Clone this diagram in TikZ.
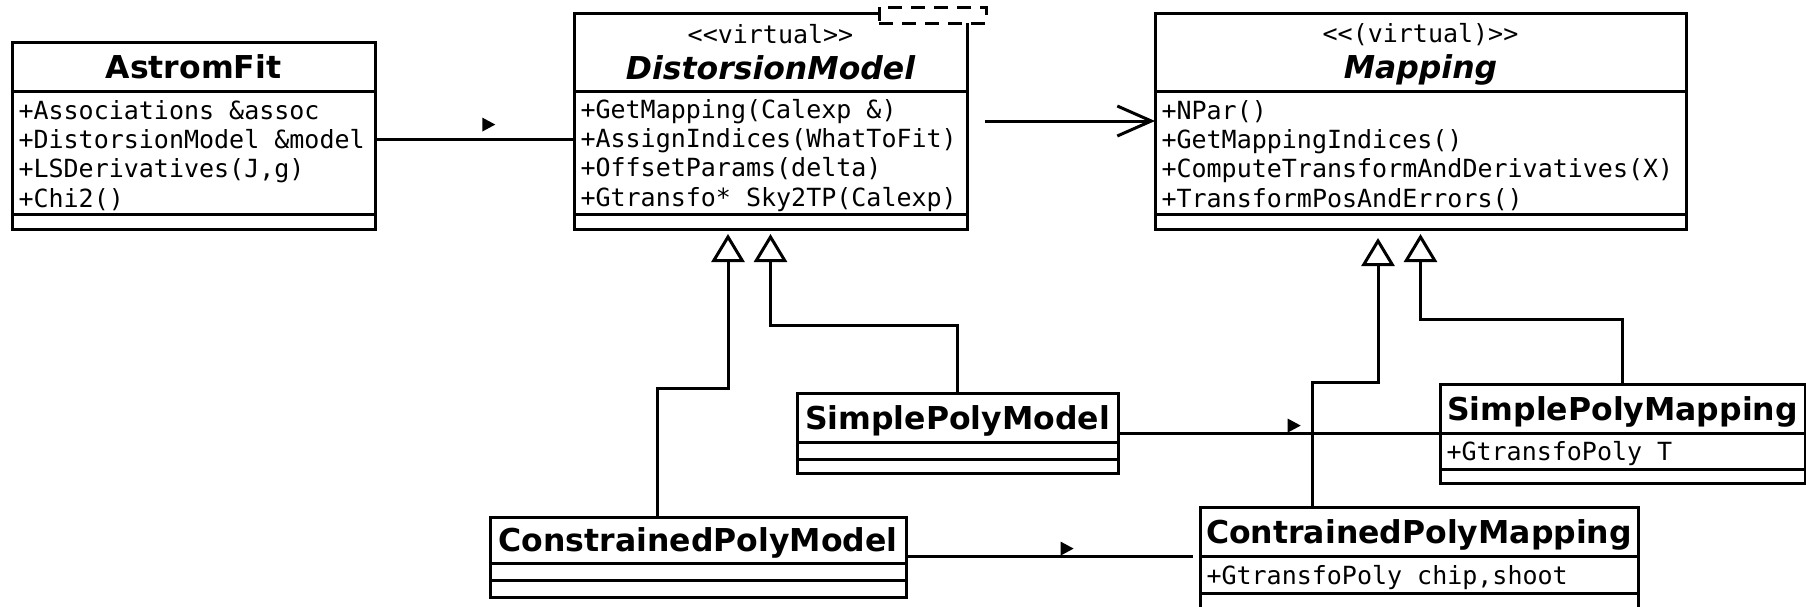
\documentclass[tikz,border=0pt]{standalone}
\usepackage{fontspec}
\newfontfamily\umlsans{DejaVu Sans}
\newfontfamily\umlmono{DejaVu Sans Mono}[Ligatures=TeXOff]
\usetikzlibrary{positioning, arrows.meta, shapes.geometric}
\newcommand\stereotype[1]{{\umlmono\mdseries\upshape\fontsize{25}{29}\selectfont <<#1>>}}
\tikzset{
  umlbox/.style={draw, line width=3pt, fill=white, inner sep=0pt, outer sep=0pt},
  classname/.style={umlbox, font=\umlsans\bfseries\fontsize{31.5}{36}\selectfont, align=center, text depth=0pt},
  classattr/.style={umlbox, inner xsep=6.5pt, align=left, font=\umlmono\fontsize{25}{29.1}\selectfont,
    execute at begin node={\spaceskip=15.05pt\relax\rule{0pt}{25pt}}},
  classops/.style={umlbox},
  tmplbox/.style={umlbox, dash pattern=on 14pt off 9pt},
  assoc/.style={line width=3pt},
  navmark/.style={isosceles triangle, isosceles triangle apex angle=60,
    isosceles triangle stretches, fill=black, inner sep=0pt,
    minimum width=14pt, minimum height=13pt},
  inherit/.style={line width=3pt, -{Triangle[open, length=28pt, width=33pt]}},
}

\begin{document}
\begin{tikzpicture}[x=1pt, y=-1pt]
    \useasboundingbox (0,0) rectangle (1806,606);

    % AstromFit
    \node[classname, minimum width=363pt, minimum height=49pt, anchor=north west] (astrom) at (12,42) {AstromFit};
    \node[classattr, text width=350pt, minimum height=123pt, below=0pt of astrom] (astrom-attr)
        {+Associations \&assoc\\+DistorsionModel \&model\\+LSDerivatives(J,g)\\+Chi2()};
    \node[classops, minimum width=363pt, minimum height=15pt, below=0pt of astrom-attr] (astrom-ops) {};

    % DistorsionModel (virtual)
    \node[classname, minimum width=393pt, minimum height=78pt, anchor=north west] (dm) at (574,13)
        {\stereotype{virtual}\\{\itshape DistorsionModel}};
    \node[classattr, text width=380pt, minimum height=123pt, below=0pt of dm] (dm-attr)
        {+GetMapping(Calexp \&)\\+AssignIndices(WhatToFit)\\+OffsetParams(delta)\\+Gtransfo* Sky2TP(Calexp)};
    \node[classops, minimum width=393pt, minimum height=15pt, below=0pt of dm-attr] (dm-ops) {};
    \node[tmplbox, minimum width=107pt, minimum height=16pt] (dm-tmpl) at (932.5,15) {};

    % Mapping (virtual)
    \node[classname, text depth=2.5pt, minimum width=531pt, minimum height=78pt, anchor=north west] (map) at (1155,13)
        {\stereotype{(virtual)}\\{\itshape Mapping}};
    \node[classattr, text width=518pt, minimum height=123pt, below=0pt of map] (map-attr)
        {+NPar()\\+GetMappingIndices()\\+ComputeTransformAndDerivatives(X)\\+TransformPosAndErrors()};
    \node[classops, minimum width=531pt, minimum height=15pt, below=0pt of map-attr] (map-ops) {};

    % models
    \node[classname, minimum width=321pt, minimum height=49pt, anchor=north west] (spm) at (797,393) {SimplePolyModel};
    \node[classops, minimum width=321pt, minimum height=17pt, below=0pt of spm] (spm-attr) {};
    \node[classops, minimum width=321pt, minimum height=14pt, below=0pt of spm-attr] (spm-ops) {};

    \node[classname, minimum width=416pt, minimum height=46pt, anchor=north west] (cpm) at (490,517) {ConstrainedPolyModel};
    \node[classops, minimum width=416pt, minimum height=17pt, below=0pt of cpm] (cpm-attr) {};
    \node[classops, minimum width=416pt, minimum height=17pt, below=0pt of cpm-attr] (cpm-ops) {};

    % mappings
    \node[classname, minimum width=365pt, minimum height=49pt, anchor=north west] (smap) at (1440,384) {SimplePolyMapping};
    \node[classattr, text width=352pt, minimum height=36pt, below=0pt of smap] (smap-attr) {+GtransfoPoly T};
    \node[classops, minimum width=365pt, minimum height=14pt, below=0pt of smap-attr] (smap-ops) {};

    \node[classname, minimum width=438pt, minimum height=49pt, anchor=north west] (cmap) at (1200,507) {ContrainedPolyMapping};
    \node[classattr, text width=425pt, minimum height=37pt, below=0pt of cmap] (cmap-attr) {+GtransfoPoly chip,shoot};
    \node[classops, minimum width=438pt, minimum height=17pt, below=0pt of cmap-attr] (cmap-ops) {};

    % Associations
    \draw[assoc] ([yshift=13.5pt]astrom-attr.east) -- node[navmark, pos=0.56, above=8pt] {} ([yshift=13.5pt]dm-attr.west);
    \draw[assoc, -{Straight Barb[length=34pt, width=30pt]}, shorten <=18pt] ([yshift=31.5pt]dm-attr.east) -- ([yshift=31.5pt]map-attr.west);
    \draw[assoc] ([yshift=-15.5pt]spm.east) -- node[navmark, pos=0.54, above=1pt] {} ([yshift=-15.5pt]spm.east -| smap.west);
    \draw[assoc, shorten >=7pt] (cmap.south west -| cpm.east) -- node[navmark, pos=0.54, above=1pt] {} (cmap.south west);

    % Inheritance
    \draw[inherit, shorten >=5pt] ([xshift=-41pt]cpm.north) -- ++(0,-129) -| ([xshift=-42.5pt]dm-ops.south);
    \draw[inherit, shorten >=5pt] (spm.north) -- ++(0,-68) -| (dm-ops.south);
    \draw[inherit, shorten >=9pt] ([xshift=-107pt]cmap.north) -- ++(0,-125) -| ([xshift=-42.5pt]map-ops.south);
    \draw[inherit, shorten >=5pt] (smap.north) -- ++(0,-65) -| (map-ops.south);

\end{tikzpicture}
\end{document}
